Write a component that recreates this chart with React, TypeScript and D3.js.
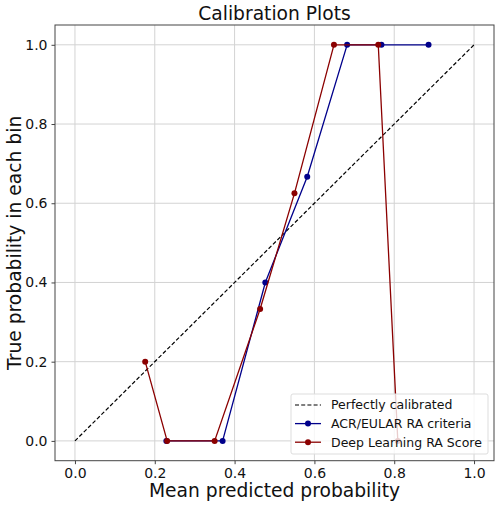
import * as d3 from 'd3';
import { useEffect, useRef } from 'react';

// calibration curves (mean predicted, fraction positive)
const acrPred = [0.229, 0.37, 0.477, 0.582, 0.682, 0.768, 0.886];
const acrTrue = [0.0, 0.0, 0.4, 0.667, 1.0, 1.0, 1.0];
const dlPred = [0.176, 0.231, 0.35, 0.464, 0.55, 0.649, 0.76, 0.809];
const dlTrue = [0.2, 0.0, 0.0, 0.333, 0.625, 1.0, 1.0, 0.0];
const ticks = [0, 0.2, 0.4, 0.6, 0.8, 1.0];
const legendLabels = ['Perfectly calibrated', 'ACR/EULAR RA criteria', 'Deep Learning RA Score'];

const BLUE = '#00008b';
const RED = '#8b0000';
const FONT = 'DejaVu Sans, sans-serif';

export default function App() {
  const ref = useRef<SVGSVGElement | null>(null);

  useEffect(() => {
    const svg = d3.select(ref.current);
    svg.selectAll('*').remove();
    const margin = { top: 25, right: 6, bottom: 46.3, left: 55 };
    const width = 500;
    const height = 507;
    const innerW = width - margin.left - margin.right;
    const innerH = height - margin.top - margin.bottom;

    const x = d3.scaleLinear().domain([-0.05, 1.05]).range([0, innerW]);
    const y = d3.scaleLinear().domain([-0.05, 1.05]).range([innerH, 0]);

    const g = svg.append('g').attr('transform', `translate(${margin.left},${margin.top})`);

    // grid
    g.append('g')
      .selectAll('line.vx')
      .data(ticks)
      .enter()
      .append('line')
      .attr('x1', (d) => x(d))
      .attr('x2', (d) => x(d))
      .attr('y1', 0)
      .attr('y2', innerH)
      .attr('stroke', '#d3d3d3')
      .attr('stroke-width', 1);
    g.append('g')
      .selectAll('line.hy')
      .data(ticks)
      .enter()
      .append('line')
      .attr('y1', (d) => y(d))
      .attr('y2', (d) => y(d))
      .attr('x1', 0)
      .attr('x2', innerW)
      .attr('stroke', '#d3d3d3')
      .attr('stroke-width', 1);

    // axes
    const xAxis = g
      .append('g')
      .attr('transform', `translate(0,${innerH})`)
      .call(d3.axisBottom(x).tickValues(ticks).tickFormat(d3.format('.1f')).tickSizeOuter(0).tickSize(3.5).tickPadding(4));
    const yAxis = g
      .append('g')
      .call(d3.axisLeft(y).tickValues(ticks).tickFormat(d3.format('.1f')).tickSizeOuter(0).tickSize(3.5).tickPadding(4));
    [xAxis, yAxis].forEach((a) => {
      a.select('.domain').remove();
      a.selectAll('line').attr('stroke', '#444');
      a.selectAll('text').attr('font-size', 14).attr('font-family', FONT).attr('fill', '#111');
    });

    const line = d3
      .line<[number, number]>()
      .x((d) => x(d[0]))
      .y((d) => y(d[1]));

    // perfectly calibrated
    g.append('path')
      .attr('d', line([[0, 0], [1, 1]]))
      .attr('fill', 'none')
      .attr('stroke', '#000')
      .attr('stroke-width', 1.2)
      .attr('stroke-dasharray', '4,2.2');

    const series = [
      { xs: acrPred, ys: acrTrue, color: BLUE },
      { xs: dlPred, ys: dlTrue, color: RED },
    ];
    series.forEach((s) => {
      const pts = s.xs.map((v, i) => [v, s.ys[i]] as [number, number]);
      g.append('path')
        .attr('d', line(pts))
        .attr('fill', 'none')
        .attr('stroke', s.color)
        .attr('stroke-width', 1.3);
      g.append('g')
        .selectAll('circle')
        .data(pts)
        .enter()
        .append('circle')
        .attr('cx', (d) => x(d[0]))
        .attr('cy', (d) => y(d[1]))
        .attr('r', 3)
        .attr('fill', s.color);
    });

    // frame
    g.append('rect')
      .attr('width', innerW)
      .attr('height', innerH)
      .attr('fill', 'none')
      .attr('stroke', '#444')
      .attr('stroke-width', 1);

    // legend
    const lg = svg.append('g').attr('transform', 'translate(291,394)');
    lg.append('rect')
      .attr('width', 197)
      .attr('height', 60)
      .attr('rx', 2)
      .attr('fill', 'white')
      .attr('fill-opacity', 0.8)
      .attr('stroke', '#ddd');
    legendLabels.forEach((lab, i) => {
      const cy = 11 + i * 18.6;
      const row = lg.append('g').attr('transform', `translate(0,${cy})`);
      if (i === 0) {
        row.append('line').attr('x1', 4).attr('x2', 30).attr('stroke', '#000').attr('stroke-width', 1.2).attr('stroke-dasharray', '4,2.2');
      } else {
        const c = i === 1 ? BLUE : RED;
        row.append('line').attr('x1', 4).attr('x2', 30).attr('stroke', c).attr('stroke-width', 1.3);
        row.append('circle').attr('cx', 17).attr('r', 3).attr('fill', c);
      }
      row.append('text')
        .attr('x', 40)
        .attr('dy', '0.35em')
        .attr('font-size', 12.5)
        .attr('font-family', FONT)
        .attr('fill', '#111')
        .text(lab);
    });

    // titles
    svg.append('text')
      .attr('x', margin.left + innerW / 2)
      .attr('y', 20)
      .attr('text-anchor', 'middle')
      .attr('font-size', 18.7)
      .attr('font-family', FONT)
      .attr('fill', '#111')
      .text('Calibration Plots');
    svg.append('text')
      .attr('x', margin.left + innerW / 2)
      .attr('y', 497)
      .attr('text-anchor', 'middle')
      .attr('font-size', 18.7)
      .attr('font-family', FONT)
      .attr('fill', '#111')
      .text('Mean predicted probability');
    svg.append('text')
      .attr('transform', `translate(21,${margin.top + innerH / 2}) rotate(-90)`)
      .attr('text-anchor', 'middle')
      .attr('font-size', 18.7)
      .attr('font-family', FONT)
      .attr('fill', '#111')
      .text('True probability in each bin');
  }, []);

  return (
    <svg
      ref={ref}
      width={500}
      height={507}
      style={{ position: 'absolute', left: 0, top: 0, background: 'white' }}
    />
  );
}
